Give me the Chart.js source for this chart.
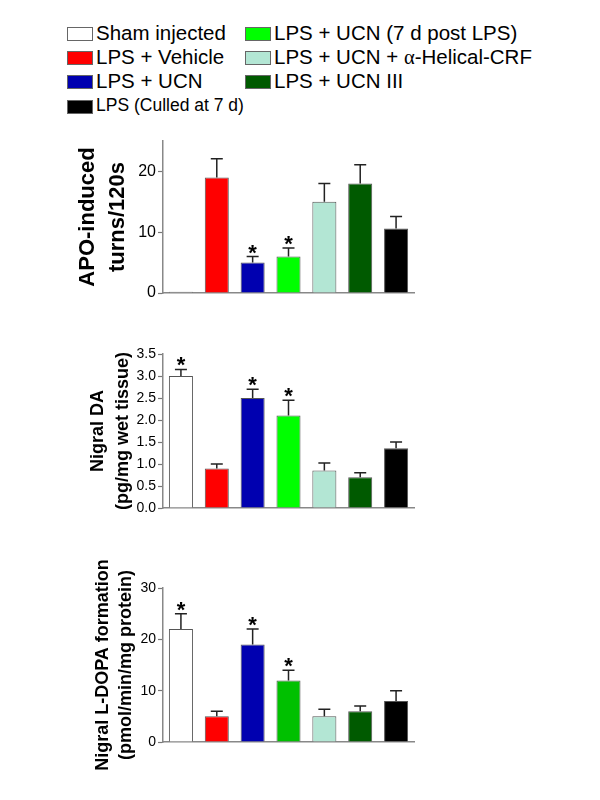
<!DOCTYPE html>
<html>
<head>
<meta charset="utf-8">
<script src="https://cdn.jsdelivr.net/npm/chart.js@4"></script>
<style>
  body{margin:0;background:#fff;font-family:"Liberation Sans",Arial,sans-serif;}
  #page{position:relative;width:600px;height:800px;overflow:hidden;}
  canvas{position:absolute;left:0;}
  .lg{position:absolute;white-space:nowrap;color:#000;line-height:1;}
  .lg i{position:absolute;box-sizing:border-box;width:26px;height:14px;border:1px solid #666;}
  .alpha{font-family:"Liberation Serif",serif;}
</style>
</head>
<body>
<div id="page">
  <div id="legend"></div>
  <canvas id="apoChart" width="600" height="232"></canvas>
  <canvas id="daChart" width="600" height="234"></canvas>
  <canvas id="ldopaChart" width="600" height="234"></canvas>
</div>
<script>
// groups, in bar order
const categories = ['Sham injected', 'LPS + Vehicle', 'LPS + UCN', 'LPS + UCN (7 d post LPS)',
  'LPS + UCN + α-Helical-CRF', 'LPS + UCN III', 'LPS (Culled at 7 d)'];
const groupColors = ['#ffffff', '#ff0000', '#0000b0', '#00ff00', '#b3e6d4', '#005a00', '#000000'];
const ldopaColors = ['#ffffff', '#ff0000', '#0000b0', '#00c000', '#b3e6d4', '#005a00', '#000000'];

// APO-induced turns / 120 s
const apoValues = [0.2, 19, 5, 6, 15, 18, 10.6];
const apoErrors = [0, 3.1, 1, 1.4, 3, 3.1, 2];
const apoStars  = [false, false, true, true, false, false, false];
const apoTicks  = [0, 10, 20];

// Nigral DA (pg/mg wet tissue)
const daValues = [3.0, 0.9, 2.5, 2.1, 0.85, 0.7, 1.36];
const daErrors = [0.15, 0.1, 0.2, 0.35, 0.17, 0.1, 0.14];
const daStars  = [true, false, true, true, false, false, false];
const daTicks  = [0, 0.5, 1.0, 1.5, 2.0, 2.5, 3.0, 3.5];

// Nigral L-DOPA formation (pmol/min/mg protein)
const ldopaValues = [22, 5, 19, 12, 5, 6, 8];
const ldopaErrors = [3, 1, 3, 2, 1.4, 1, 2];
const ldopaStars  = [true, false, true, true, false, false, false];
const ldopaTicks  = [0, 10, 20, 30];

const FONT = '"Liberation Sans", Arial, sans-serif';

// legend (two columns, last entry of col 1 in smaller type)
(function(){
  const slots = [
    {i:0, x:67,  y:33,  size:20.5}, {i:1, x:67,  y:57,  size:20.5}, {i:2, x:67,  y:81,  size:20.5},
    {i:6, x:67,  y:106, size:17.5},
    {i:3, x:245, y:33,  size:20.5}, {i:4, x:245, y:57,  size:20.5}, {i:5, x:245, y:81,  size:20.5}
  ];
  const legend = document.getElementById('legend');
  slots.forEach(s=>{
    const div = document.createElement('div');
    div.className = 'lg';
    div.style.left = s.x + 'px';
    div.style.top = (s.y - s.size/2) + 'px';
    div.style.fontSize = s.size + 'px';
    div.style.paddingLeft = '29px';
    const label = categories[s.i].replace('α', '<span class="alpha">α</span>');
    div.innerHTML = `<i style="background:${groupColors[s.i]};left:0;top:${(s.size-14)/2+1}px"></i>${label}`;
    legend.appendChild(div);
  });
})();

// error bars + significance stars
const errorBars = {
  id:'errorBars',
  afterDatasetsDraw(chart, args, opts){
    const {ctx, scales:{y}} = chart;
    const meta = chart.getDatasetMeta(0);
    const data = chart.data.datasets[0].data;
    ctx.save();
    ctx.strokeStyle = '#222';
    ctx.fillStyle = '#000';
    ctx.lineWidth = 1.5;
    meta.data.forEach((bar, i)=>{
      const err = opts.errors[i];
      const top = y.getPixelForValue(data[i]);
      const cap = y.getPixelForValue(data[i] + err);
      if (err > 0){
        ctx.beginPath();
        ctx.moveTo(bar.x, top); ctx.lineTo(bar.x, cap);
        ctx.moveTo(bar.x - 6, cap); ctx.lineTo(bar.x + 6, cap);
        ctx.stroke();
      }
      if (opts.stars[i]){
        ctx.font = 'bold 22px ' + FONT;
        ctx.textAlign = 'center';
        ctx.textBaseline = 'alphabetic';
        ctx.fillText('*', bar.x, cap + 3);
      }
    });
    ctx.restore();
  }
};

function makePanel(id, top, cfg){
  const cv = document.getElementById(id);
  cv.style.top = top + 'px';
  const pad = 40;
  return new Chart(cv, {
    type:'bar',
    data:{
      labels:categories,
      datasets:[{data:cfg.values, backgroundColor:cfg.colors, borderColor:'#555', borderWidth:1,
        barPercentage:0.67, categoryPercentage:1}]
    },
    options:{
      responsive:false, animation:false, devicePixelRatio:1,
      layout:{padding:{left:cfg.left, right:186, top:pad, bottom:pad}},
      plugins:{legend:{display:false}, tooltip:{enabled:false},
        errorBars:{errors:cfg.errors, stars:cfg.stars}},
      scales:{
        x:{
          ticks:{display:false}, grid:{display:false, drawTicks:false},
          border:{color:'#888', width:1.5},
          afterFit:(s)=>{ s.height = 0; }
        },
        y:{
          min:0, max:cfg.max,
          afterBuildTicks:(s)=>{ s.ticks = cfg.ticks.map(v=>({value:v})); },
          afterFit:(s)=>{ s.width = 163 - cfg.left; },
          ticks:{color:'#000', padding:2, font:{family:FONT, size:cfg.tickSize},
            callback:(v)=> cfg.decimals ? Number(v).toFixed(cfg.decimals) : v},
          grid:{drawOnChartArea:false, drawTicks:true, tickLength:5, color:'#777', tickWidth:1.2},
          border:{color:'#888', width:1.5},
          title:{display:true, text:cfg.title, color:'#000', padding:0,
            font:{family:FONT, size:cfg.titleSize, weight:'bold', lineHeight:cfg.titleLH}}
        }
      }
    },
    plugins:[errorBars]
  });
}

document.addEventListener('DOMContentLoaded', ()=>{
  makePanel('apoChart', 101, {values:apoValues, errors:apoErrors, stars:apoStars, ticks:apoTicks,
    colors:groupColors, max:25, tickSize:16, title:['APO-induced', 'turns/120s'],
    titleSize:22, titleLH:1.35, left:73});
  makePanel('daChart', 314, {values:daValues, errors:daErrors, stars:daStars, ticks:daTicks,
    colors:groupColors, max:3.5, tickSize:14, decimals:1, title:['Nigral DA', '(pg/mg wet tissue)'],
    titleSize:18, titleLH:1.4, left:85});
  makePanel('ldopaChart', 548, {values:ldopaValues, errors:ldopaErrors, stars:ldopaStars, ticks:ldopaTicks,
    colors:ldopaColors, max:30, tickSize:14, title:['Nigral L-DOPA formation', '(pmol/min/mg protein)'],
    titleSize:18, titleLH:1.25, left:92});
});
</script>
</body>
</html>
